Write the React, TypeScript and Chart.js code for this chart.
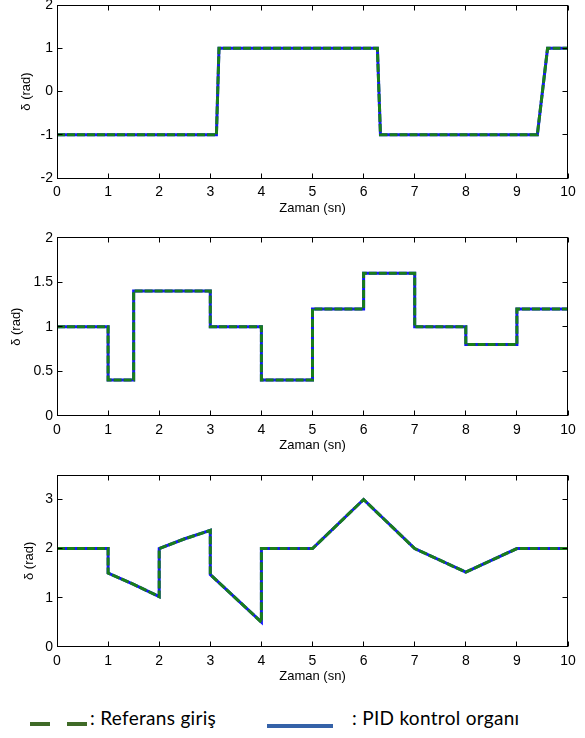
import React, { useEffect, useRef } from 'react';
import { Chart, registerables } from 'chart.js';
Chart.register(...registerables);

// ---------- data ----------
const xTicks = [0, 1, 2, 3, 4, 5, 6, 7, 8, 9, 10];

// Panel 1 (square wave)
const t1 = [0, 3.12, 3.17, 6.27, 6.33, 9.4, 9.6, 10];
const ref1 = [-1, -1, 1, 1, -1, -1, 1, 1];
const pid1 = [-1, -1, 1, 1, -1, -1, 1, 1];
const yTicks1 = [-2, -1, 0, 1, 2];

// Panel 2 (steps)
const t2 = [0, 1, 1, 1.5, 1.5, 3, 3, 4, 4, 5, 5, 6, 6, 7, 7, 8, 8, 9, 9, 10];
const ref2 = [1, 1, 0.4, 0.4, 1.4, 1.4, 1, 1, 0.4, 0.4, 1.2, 1.2, 1.6, 1.6, 1, 1, 0.8, 0.8, 1.2, 1.2];
const pid2 = [1, 1, 0.4, 0.4, 1.4, 1.4, 1, 1, 0.4, 0.4, 1.2, 1.2, 1.6, 1.6, 1, 1, 0.8, 0.8, 1.2, 1.2];
const yTicks2 = [0, 0.5, 1, 1.5, 2];

// Panel 3 (ramps)
const t3 = [0, 1, 1, 1.5, 2, 2, 2.5, 3, 3, 4, 4, 5, 6, 7, 8, 9, 10];
const ref3 = [2, 2, 1.5, 1.27, 1.02, 2, 2.2, 2.37, 1.47, 0.5, 2, 2, 3, 2, 1.52, 2, 2];
const pid3 = [2, 2, 1.5, 1.27, 1.02, 2, 2.2, 2.37, 1.47, 0.5, 2, 2, 3, 2, 1.52, 2, 2];
const yTicks3 = [0, 1, 2, 3];

const xTitle = 'Zaman (sn)';
const yTitle = 'δ (rad)';
const legendRef = ': Referans giriş';
const legendPid = ': PID kontrol organı';

const FONT = "'Liberation Sans', Arial, sans-serif";
const W = 585;
const AREA_LEFT = 57;
const AREA_RIGHT = 568;

type Panel = {
  t: number[]; ref: number[]; pid: number[]; yTicks: number[];
  yMin: number; yMax: number;
  canvasTop: number; canvasH: number;
  areaTop: number; areaBottom: number;
  xAxisH: number; yTitleX: number;
};

const panels: Panel[] = [
  { t: t1, ref: ref1, pid: pid1, yTicks: yTicks1, yMin: -2, yMax: 2,
    canvasTop: 0, canvasH: 222, areaTop: 5, areaBottom: 178, xAxisH: 38.5, yTitleX: 26 },
  { t: t2, ref: ref2, pid: pid2, yTicks: yTicks2, yMin: 0, yMax: 2,
    canvasTop: 222, canvasH: 236, areaTop: 237.7, areaBottom: 415.7, xAxisH: 38, yTitleX: 16.5 },
  { t: t3, ref: ref3, pid: pid3, yTicks: yTicks3, yMin: 0, yMax: 3.5,
    canvasTop: 458, canvasH: 236, areaTop: 475, areaBottom: 646.7, xAxisH: 38, yTitleX: 29.5 },
];

const pts = (t: number[], v: number[]) => t.map((x, i) => ({ x, y: v[i] }));

const framePlugin = {
  id: 'frame',
  afterDraw(chart: any) {
    const { ctx, chartArea: a, scales } = chart;
    const px = (v: number) => Math.floor(v) + 0.5;
    ctx.save();
    ctx.strokeStyle = '#000';
    ctx.lineWidth = 1;
    const L = px(a.left), R = px(a.right - 1), T = px(a.top), B = px(a.bottom);
    ctx.strokeRect(L, T, R - L, B - T);
    const len = 5;
    ctx.beginPath();
    for (const tk of scales.x.ticks) {
      const x = px(scales.x.getPixelForValue(tk.value));
      ctx.moveTo(x, B); ctx.lineTo(x, B - len);
      ctx.moveTo(x, T); ctx.lineTo(x, T + len);
    }
    for (const tk of scales.y.ticks) {
      const y = px(scales.y.getPixelForValue(tk.value));
      ctx.moveTo(L, y); ctx.lineTo(L + len, y);
      ctx.moveTo(R, y); ctx.lineTo(R - len, y);
    }
    ctx.stroke();
    ctx.restore();
  },
};

function PanelChart({ p }: { p: Panel }) {
  const ref = useRef<HTMLCanvasElement>(null);
  useEffect(() => {
    const padTop = p.areaTop - p.canvasTop;
    const padBottom = p.canvasTop + p.canvasH - (p.areaBottom + p.xAxisH);
    const lh = 13 * 1.2;
    const chart = new Chart(ref.current as HTMLCanvasElement, {
      type: 'line',
      data: {
        datasets: [
          {
            label: 'Referans giriş',
            data: pts(p.t, p.ref),
            borderColor: '#1a7d1a',
            borderWidth: 3,
            borderDash: [8, 2],
            pointRadius: 0,
            tension: 0,
          },
          {
            label: 'PID kontrol organı',
            data: pts(p.t, p.pid),
            borderColor: '#1414ff',
            borderWidth: 3,
            pointRadius: 0,
            tension: 0,
          },
        ],
      },
      options: {
        responsive: false,
        animation: false,
        events: [],
        layout: { padding: { left: 0, right: W - AREA_RIGHT, top: padTop, bottom: padBottom } },
        plugins: { legend: { display: false }, tooltip: { enabled: false } },
        scales: {
          x: {
            type: 'linear',
            min: 0,
            max: 10,
            afterBuildTicks: (s: any) => { s.ticks = xTicks.map((v) => ({ value: v })); },
            afterFit: (s: any) => { s.height = p.xAxisH; s.paddingLeft = 0; s.paddingRight = 0; },
            grid: { display: false, drawTicks: false },
            border: { display: false },
            ticks: {
              padding: 6,
              color: '#000',
              font: { family: FONT, size: 14 },
              maxRotation: 0,
              autoSkip: false,
              callback: (v: any) => String(v),
            },
            title: {
              display: true,
              text: xTitle,
              color: '#000',
              font: { family: FONT, size: 13 },
              padding: { top: 0, bottom: 0 },
            },
          },
          y: {
            type: 'linear',
            min: p.yMin,
            max: p.yMax,
            afterBuildTicks: (s: any) => { s.ticks = p.yTicks.map((v) => ({ value: v })); },
            afterFit: (s: any) => { s.width = AREA_LEFT; s.paddingTop = 0; s.paddingBottom = 0; },
            grid: { display: false, drawTicks: false },
            border: { display: false },
            ticks: {
              padding: 4,
              color: '#000',
              font: { family: FONT, size: 14 },
              autoSkip: false,
              callback: (v: any) => String(v),
            },
            title: {
              display: true,
              text: yTitle,
              color: '#000',
              font: { family: FONT, size: 13 },
              padding: { top: p.yTitleX - lh / 2, bottom: 0 },
            },
          },
        },
      },
      plugins: [framePlugin],
    } as any);
    return () => chart.destroy();
  }, [p]);
  return (
    <canvas
      ref={ref}
      width={W}
      height={p.canvasH}
      style={{ position: 'absolute', left: 0, top: p.canvasTop, width: W, height: p.canvasH, display: 'block' }}
    />
  );
}

const legendFont: React.CSSProperties = {
  position: 'absolute',
  fontFamily: "Lato, 'Open Sans', sans-serif",
  fontSize: 19,
  letterSpacing: 0.3,
  lineHeight: '20px',
  color: '#000',
  whiteSpace: 'nowrap',
};

export default function App() {
  return (
    <div style={{ position: 'fixed', left: 0, top: 0, width: W, height: 738, background: '#fff', overflow: 'hidden' }}>
      {panels.map((p, i) => <PanelChart key={i} p={p} />)}
      <div style={{ position: 'absolute', left: 29.5, top: 721.5, width: 20.5, height: 4, background: '#3f6b27' }} />
      <div style={{ position: 'absolute', left: 66.7, top: 721.5, width: 20.5, height: 4, background: '#3f6b27' }} />
      <div style={{ ...legendFont, left: 90, top: 707.6 }}>{legendRef}</div>
      <div style={{ position: 'absolute', left: 266.7, top: 723.5, width: 66, height: 4.5, background: '#3562a8' }} />
      <div style={{ ...legendFont, left: 352, top: 707.6 }}>{legendPid}</div>
    </div>
  );
}
